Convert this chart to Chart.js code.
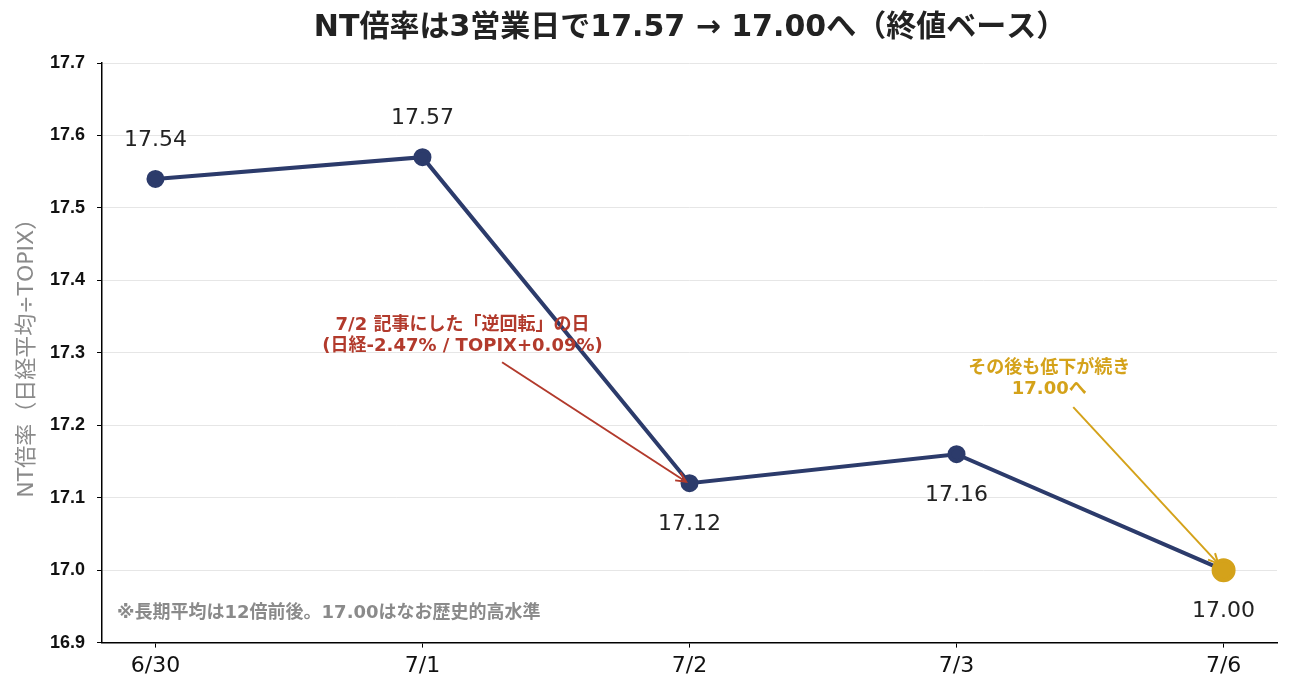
<!DOCTYPE html>
<html>
<head>
<meta charset="utf-8">
<script src="https://cdn.jsdelivr.net/npm/chart.js@4/dist/chart.umd.min.js"></script>
<style>
  html, body { margin: 0; padding: 0; background: #fff; }
  #wrap { width: 1292px; height: 694px; }
</style>
</head>
<body>
<div id="wrap"><canvas id="myChart"></canvas></div>
<script>
// データ
const days = ['6/30', '7/1', '7/2', '7/3', '7/6'];
const ntRatio = [17.54, 17.57, 17.12, 17.16, 17.00];
const yTicks = [16.9, 17.0, 17.1, 17.2, 17.3, 17.4, 17.5, 17.6, 17.7];
const labelSide = ['up', 'up', 'down', 'down', 'down'];

const FONT = "'DejaVu Sans', 'Noto Sans CJK JP', sans-serif";
const NAVY = '#2c3b6b';
const GOLD = '#d4a21a';
const RED = '#b23a2c';

const ctx = document.getElementById('myChart');

function arrow(c, x1, y1, x2, y2, color) {
  const ang = Math.atan2(y2 - y1, x2 - x1);
  c.save();
  c.strokeStyle = color;
  c.lineWidth = 2;
  c.beginPath();
  c.moveTo(x1, y1);
  c.lineTo(x2, y2);
  c.stroke();
  c.beginPath();
  c.moveTo(x2 - 11 * Math.cos(ang - 0.45), y2 - 11 * Math.sin(ang - 0.45));
  c.lineTo(x2, y2);
  c.lineTo(x2 - 11 * Math.cos(ang + 0.45), y2 - 11 * Math.sin(ang + 0.45));
  c.stroke();
  c.restore();
}

// タイトル・数値ラベル・注記
const notes = {
  id: 'notes',
  afterDraw(chart) {
    const c = chart.ctx;
    c.save();
    c.textAlign = 'center';
    c.textBaseline = 'middle';
    c.font = 'bold 30px ' + FONT;
    c.fillStyle = '#222';
    c.fillText('NT倍率は3営業日で17.57 → 17.00へ（終値ベース）', chart.width / 2 + 44, 28);
    c.restore();
  },
  afterDatasetsDraw(chart) {
    const c = chart.ctx;
    const xs = chart.scales.x, ys = chart.scales.y;
    const area = chart.chartArea;
    c.save();
    c.textAlign = 'center';
    c.textBaseline = 'middle';
    c.font = '22px ' + FONT;
    c.fillStyle = '#222';
    ntRatio.forEach((v, i) => {
      const px = xs.getPixelForValue(i);
      const py = ys.getPixelForValue(v);
      c.fillText(v.toFixed(2), px, labelSide[i] === 'up' ? py - 39 : py + 41);
    });

    // 7/2 の注記
    c.font = 'bold 18px ' + FONT;
    c.fillStyle = RED;
    c.fillText('7/2 記事にした「逆回転」の日', xs.getPixelForValue(1.15), ys.getPixelForValue(17.338));
    c.fillText('(日経-2.47% / TOPIX+0.09%)', xs.getPixelForValue(1.15), ys.getPixelForValue(17.309));
    arrow(c, xs.getPixelForValue(1.298), ys.getPixelForValue(17.287),
      xs.getPixelForValue(1.987), ys.getPixelForValue(17.122), RED);

    // 7/6 の注記
    c.fillStyle = GOLD;
    c.font = 'bold 18px ' + FONT;
    c.fillText('その後も低下が続き', xs.getPixelForValue(3.347), ys.getPixelForValue(17.279));
    c.fillText('17.00へ', xs.getPixelForValue(3.347), ys.getPixelForValue(17.25));
    arrow(c, xs.getPixelForValue(3.437), ys.getPixelForValue(17.225),
      xs.getPixelForValue(3.98), ys.getPixelForValue(17.009), GOLD);

    c.textAlign = 'left';
    c.font = 'bold 18px ' + FONT;
    c.fillStyle = '#8a8a8a';
    c.fillText('※長期平均は12倍前後。17.00はなお歴史的高水準', area.left + 15, ys.getPixelForValue(16.94));
    c.restore();
  }
};

new Chart(ctx, {
  type: 'line',
  data: {
    datasets: [{
      data: ntRatio.map((v, i) => ({ x: i, y: v })),
      borderColor: NAVY,
      borderWidth: 4,
      pointBackgroundColor: ntRatio.map((v, i) => i === ntRatio.length - 1 ? GOLD : NAVY),
      pointBorderColor: ntRatio.map((v, i) => i === ntRatio.length - 1 ? GOLD : NAVY),
      pointRadius: ntRatio.map((v, i) => i === ntRatio.length - 1 ? 10 : 7),
      tension: 0,
      fill: false
    }]
  },
  options: {
    responsive: true,
    maintainAspectRatio: false,
    animation: false,
    layout: { padding: { left: 16, right: 15, top: 63, bottom: 10 } },
    plugins: {
      legend: { display: false },
      tooltip: { enabled: false },
      title: { display: false }
    },
    scales: {
      x: {
        type: 'linear',
        min: -0.2,
        max: 4.2,
        afterBuildTicks: axis => { axis.ticks = days.map((d, i) => ({ value: i })); },
        ticks: {
          callback: v => days[v],
          color: '#111',
          font: { family: FONT, size: 22 },
          padding: 5,
          maxRotation: 0
        },
        grid: { drawOnChartArea: false, color: '#000', tickLength: 5 },
        border: { color: '#000', width: 1.5 }
      },
      y: {
        min: 16.9,
        max: 17.7,
        afterBuildTicks: axis => { axis.ticks = yTicks.map(v => ({ value: v })); },
        ticks: {
          callback: v => v.toFixed(1),
          color: '#111',
          font: { family: "'Liberation Sans', Arial, sans-serif", size: 18, weight: 'bold' },
          padding: 12
        },
        grid: { color: '#e6e6e6', tickColor: '#000', tickLength: 5 },
        border: { color: '#000', width: 1.5 },
        title: {
          display: true,
          text: 'NT倍率（日経平均÷TOPIX）',
          color: '#8a8a8a',
          font: { family: FONT, size: 22, lineHeight: 1 },
          padding: { top: 0, bottom: 0 }
        }
      }
    }
  },
  plugins: [notes]
});
</script>
</body>
</html>
